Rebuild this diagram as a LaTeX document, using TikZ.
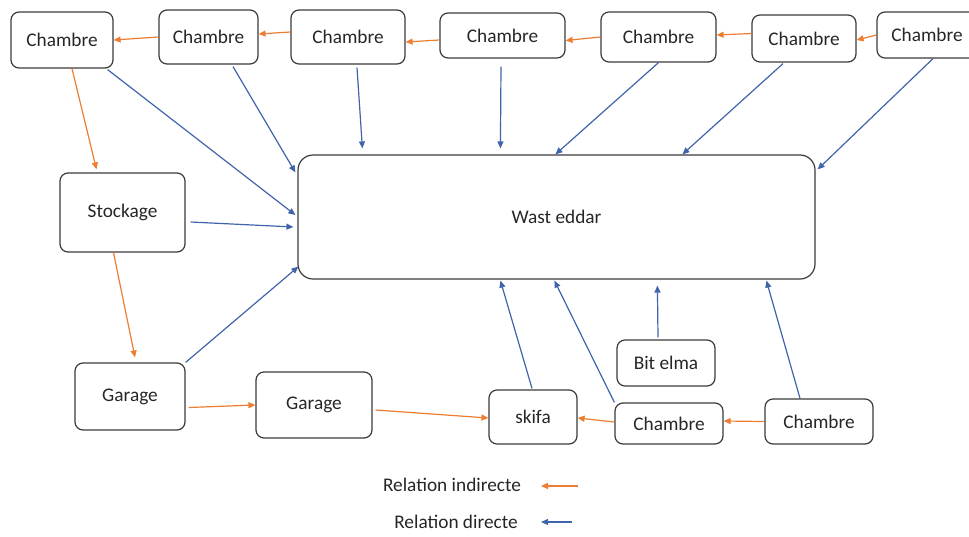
\documentclass[tikz,border=0pt]{standalone}
\usepackage{fontspec}
\setmainfont{Carlito}
\usepackage{xcolor}
\usetikzlibrary{arrows.meta,calc}

\definecolor{indcol}{HTML}{ED7D31}
\definecolor{dircol}{HTML}{3F64AA}
\definecolor{boxcol}{HTML}{3A3A3A}

\tikzset{
	room/.style={draw=boxcol,line width=1.2pt,rounded corners=8pt,inner sep=0pt,
		font=\fontsize{19.3}{23}\selectfont,text=black!85},
	relind/.style={draw=indcol,line width=1.2pt,-{Triangle[length=7pt,width=6pt]}},
	reldir/.style={draw=dircol,line width=1.2pt,-{Triangle[length=7pt,width=6pt]}}
}

\begin{document}
\begin{tikzpicture}[x=1pt,y=-1pt]
	\useasboundingbox (0,0) rectangle (969,536);
	\clip (0,0) rectangle (969,536);

	\node[room,minimum width=102,minimum height=56] (C1) at (62,40) {Chambre};
	\node[room,minimum width=99,minimum height=54] (C2) at (208.5,37) {Chambre};
	\node[room,minimum width=114,minimum height=54] (C3) at (348,37) {Chambre};
	\node[room,minimum width=125,minimum height=45] (C4) at (502.5,35.5) {Chambre};
	\node[room,minimum width=115,minimum height=50] (C5) at (658.5,37) {Chambre};
	\node[room,minimum width=104,minimum height=47] (C6) at (804,38.5) {Chambre};
	\node[room,minimum width=100,minimum height=46] (C7) at (927,35) {Chambre};

	\node[room,minimum width=517,minimum height=124,rounded corners=15pt] (W) at (556.5,217) {Wast eddar};

	\node[room,minimum width=125,minimum height=79] (S) at (122.5,212.5) {Stockage};
	\node[room,minimum width=110,minimum height=67] (G1) at (130,396.5) {Garage};
	\node[room,minimum width=116,minimum height=66] (G2) at (314,405) {Garage};
	\node[room,minimum width=88,minimum height=54] (K) at (533,417) {skifa};
	\node[room,minimum width=98,minimum height=46] (B) at (666,363) {Bit elma};
	\node[room,minimum width=108,minimum height=41] (C8) at (669,423.5) {Chambre};
	\node[room,minimum width=108,minimum height=45] (C9) at (819,421.5) {Chambre};

	% indirect relations
	\draw[relind] (C2.west) -- (C1.east);
	\draw[relind] ($(C3.west)+(0,-5)$) -- ($(C2.east)+(0,-3)$);
	\draw[relind] ($(C4.west)+(0,4.5)$) -- ($(C3.east)+(0,5)$);
	\draw[relind] (C5.west) -- ($(C4.east)+(0,5)$);
	\draw[relind] ($(C6.west)+(0,-5)$) -- ($(C5.east)+(0,-2)$);
	\draw[relind] (C7.west) -- ($(C6.east)+(0,1.5)$);
	\draw[relind] ($(C1.south)+(10,0)$) -- ($(S.north)+(-26,-3)$);
	\draw[relind] ($(S.south)+(-9,0)$) -- ($(G1.north)+(5,-5)$);
	\draw[relind] ($(G1.east)+(3,11)$) -- (G2.west);
	\draw[relind] ($(G2.east)+(3,5)$) -- ($(K.west)+(0,1)$);
	\draw[relind] ($(C8.west)+(0,-1.5)$) -- ($(K.east)+(0,1)$);
	\draw[relind] (C9.west) -- ($(C8.east)+(0,-2.5)$);

	% direct relations
	\draw[reldir] ($(C1.south east)+(-6,1)$) -- ($(W.west)+(-2,-2)$);
	\draw[reldir] ($(C2.south)+(24.5,2)$) -- ($(W.north west)+(-2,18)$);
	\draw[reldir] ($(C3.south)+(9,3)$) -- ($(W.north west)+(65,-6)$);
	\draw[reldir] ($(C4.south)+(-1.5,8)$) -- ($(W.north west)+(203,-6)$);
	\draw[reldir] (C5.south) -- ($(W.north west)+(258,0)$);
	\draw[reldir] ($(C6.south)+(-21,1)$) -- ($(W.north west)+(385,0)$);
	\draw[reldir] ($(C7.south)+(6,0)$) -- ($(W.north east)+(2,15)$);
	\draw[reldir] ($(S.east)+(5,9.5)$) -- ($(W.west)+(-4,10)$);
	\draw[reldir] (G1.north east) -- ($(W.south west)+(1,-13)$);
	\draw[reldir] ($(K.north)+(-1,-1)$) -- ($(W.south west)+(203,1)$);
	\draw[reldir] (C8.north west) -- ($(W.south west)+(257,1)$);
	\draw[reldir] ($(B.north)+(-8,-2)$) -- ($(W.south west)+(360,6)$);
	\draw[reldir] ($(C9.north)+(-19,0)$) -- ($(W.south west)+(469,1)$);

	% legend
	\node[font=\fontsize{19.3}{23}\selectfont,text=black!85] (L1) at (452,485) {Relation indirecte};
	\node[font=\fontsize{19.3}{23}\selectfont,text=black!85] (L2) at (456,522) {Relation directe};
	\coordinate (i1) at (578,486);
	\coordinate (i2) at (541,486);
	\coordinate (d1) at (572,522);
	\coordinate (d2) at (541,522);
	\draw[relind] (i1) -- (i2);
	\draw[reldir] (d1) -- (d2);
\end{tikzpicture}
\end{document}
